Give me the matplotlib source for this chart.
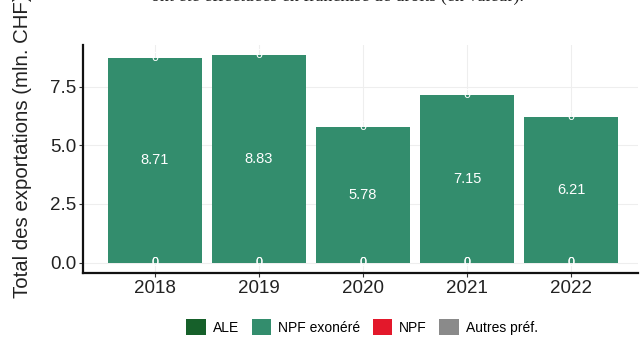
import numpy as np
import matplotlib.pyplot as plt
from matplotlib.patches import Patch

plt.rcParams['font.family'] = ['Liberation Sans', 'DejaVu Sans']

years = ['2018', '2019', '2020', '2021', '2022']
categories = ['ALE', 'NPF exonéré', 'NPF', 'Autres préf.']
colors = ['#16602a', '#338d6d', '#e3182b', '#8a8a8a']
ale = [0, 0, 0, 0, 0]
npf_exonere = [8.71, 8.83, 5.78, 7.15, 6.21]
npf = [0, 0, 0, 0, 0]
autres = [0, 0, 0, 0, 0]
series = [ale, npf_exonere, npf, autres]

fig = plt.figure(figsize=(6.43, 3.37), dpi=100)
ax = fig.add_axes([0.129, 0.19, 0.863, 0.676])

x = np.arange(1, len(years) + 1)

# ggplot-like stacking: first level ends up on top
bottom = np.zeros(len(years))
for vals, col in zip(series[::-1], colors[::-1]):
    vals = np.array(vals, dtype=float)
    ax.bar(x, vals, width=0.9, bottom=bottom, color=col, zorder=2)
    for xi, b, v in zip(x, bottom, vals):
        ax.text(xi, b + v / 2, f'{v:g}' if v == 0 else f'{v:.2f}',
                ha='center', va='center', color='white',
                fontsize=9 if v == 0 else 10.5, zorder=3)
    bottom += vals

ax.set_xlim(0.31, 5.64)
ax.set_ylim(-0.44, 9.27)
ax.set_xticks(x)
ax.set_xticklabels(years)
ax.set_yticks([0, 2.5, 5.0, 7.5])
ax.set_yticklabels(['0.0', '2.5', '5.0', '7.5'])
ax.tick_params(labelsize=13.5, length=3, width=0.8, colors='#333333',
               labelcolor='#222222', pad=2)

ax.grid(True, color='#eeeeee', linewidth=0.8, zorder=0)
ax.set_axisbelow(True)
for s in ['top', 'right']:
    ax.spines[s].set_visible(False)
for s in ['left', 'bottom']:
    ax.spines[s].set_linewidth(1.6)
    ax.spines[s].set_color('#111111')

# y title runs past the top edge, as in the source screenshot
fig.text(0.035, 1 - 298 / 337, 'Total des exportations (mln. CHF)', rotation=90,
         ha='center', va='bottom', fontsize=14.7, color='#222222')

# caption line of the surrounding page, cut by the top edge
fig.text(0.525, 1.012, 'ont été effectuées en franchise de droits (en valeur).',
         ha='center', va='center', fontsize=13, color='#222222',
         family=['Liberation Serif', 'DejaVu Serif'])

handles = [Patch(facecolor=c, edgecolor='none') for c in colors]
fig.legend(handles, categories, loc='center', bbox_to_anchor=(0.563, 0.03),
           ncol=4, frameon=False, fontsize=10, handlelength=1.4,
           handleheight=1.4, handletextpad=0.5, columnspacing=0.9)

fig.savefig('out.png', dpi=100)
